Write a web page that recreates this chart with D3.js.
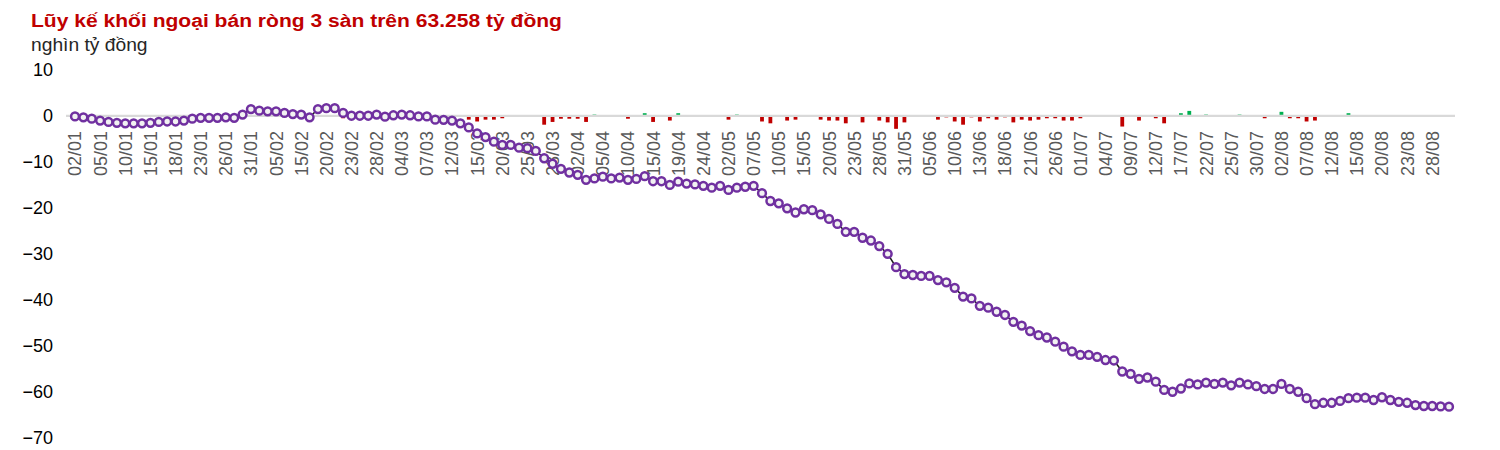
<!DOCTYPE html>
<html>
<head>
<meta charset="utf-8">
<script src="https://cdn.jsdelivr.net/npm/d3@7"></script>
<style>
  html, body { margin: 0; padding: 0; background: #ffffff; }
  svg { display: block; font-family: "Liberation Sans", Arial, sans-serif; }
</style>
</head>
<body>
<svg id="chart" width="1500" height="450"></svg>
<script>
const titleText = "Lũy kế khối ngoại bán ròng 3 sàn trên 63.258 tỷ đồng";
const unitText = "nghìn tỷ đồng";

const dates = [
  "02/01","03/01","04/01","05/01","08/01","09/01","10/01","11/01","12/01","15/01","16/01","17/01","18/01","19/01","22/01","23/01","24/01","25/01","26/01","29/01","30/01","31/01",
  "01/02","02/02","05/02","06/02","07/02","15/02","16/02","19/02","20/02","21/02","22/02","23/02","26/02","27/02","28/02","29/02",
  "01/03","04/03","05/03","06/03","07/03","08/03","11/03","12/03","13/03","14/03","15/03","18/03","19/03","20/03","21/03","22/03","25/03","26/03","27/03","28/03","29/03",
  "01/04","02/04","03/04","04/04","05/04","08/04","09/04","10/04","11/04","12/04","15/04","16/04","17/04","19/04","22/04","23/04","24/04","25/04","26/04",
  "02/05","03/05","06/05","07/05","08/05","09/05","10/05","13/05","14/05","15/05","16/05","17/05","20/05","21/05","22/05","23/05","24/05","27/05","28/05","29/05","30/05","31/05",
  "03/06","04/06","05/06","06/06","07/06","10/06","11/06","12/06","13/06","14/06","17/06","18/06","19/06","20/06","21/06","24/06","25/06","26/06","27/06","28/06",
  "01/07","02/07","03/07","04/07","05/07","08/07","09/07","10/07","11/07","12/07","15/07","16/07","17/07","18/07","19/07","22/07","23/07","24/07","25/07","26/07","29/07","30/07","31/07",
  "01/08","02/08","05/08","06/08","07/08","08/08","09/08","12/08","13/08","14/08","15/08","16/08","19/08","20/08","21/08","22/08","23/08","26/08","27/08","28/08","29/08","30/08"
];

const tickLabels = ["02/01","05/01","10/01","15/01","18/01","23/01","26/01","31/01","05/02","15/02","20/02","23/02","28/02","04/03","07/03","12/03","15/03","20/03","25/03","28/03","02/04","05/04","10/04","15/04","19/04","24/04","02/05","07/05","10/05","15/05","20/05","23/05","28/05","31/05","05/06","10/06","13/06","18/06","21/06","26/06","01/07","04/07","09/07","12/07","17/07","22/07","25/07","30/07","02/08","07/08","12/08","15/08","20/08","23/08","28/08"];

const yTicks = [10, 0, -10, -20, -30, -40, -50, -60, -70];

// cumulative net (thousand billion VND)
const cumulative = [
  -0.1,-0.3,-0.6,-1.0,-1.3,-1.5,-1.6,-1.6,-1.6,-1.5,-1.3,-1.2,-1.2,-1.0,-0.6,-0.4,-0.4,-0.4,-0.3,-0.4,0.3,1.5,
  1.15,1.0,1.0,0.65,0.4,0.3,-0.3,1.5,1.7,1.7,0.65,0.05,0.05,0.05,0.3,-0.15,
  0.15,0.3,0.15,-0.1,-0.1,-0.8,-0.85,-1.0,-1.6,-2.5,-3.8,-4.6,-5.6,-6.3,-6.3,-6.9,-7.0,-7.6,-9.2,-10.4,-11.5,
  -12.3,-12.8,-13.9,-13.6,-13.2,-13.6,-13.4,-13.9,-13.7,-13.1,-14.2,-14.2,-15.0,-14.3,-14.7,-14.9,-15.2,-15.6,-15.2,
  -16.1,-15.6,-15.4,-15.2,-16.8,-18.5,-19.0,-20.1,-21.0,-20.3,-20.5,-21.4,-22.4,-23.5,-25.2,-25.2,-26.5,-27.1,-28.3,-30.0,-32.9,-34.4,
  -34.6,-34.8,-34.8,-35.7,-36.2,-37.4,-39.3,-39.7,-41.3,-41.7,-42.6,-43.3,-44.8,-45.6,-46.8,-47.7,-48.2,-49.1,-50.2,-51.2,
  -52.0,-52.0,-52.4,-53.1,-53.2,-55.6,-56.1,-57.2,-56.9,-57.8,-59.6,-60.0,-59.3,-58.2,-58.4,-58.0,-58.3,-58.0,-58.6,-58.0,-58.4,-58.8,-59.4,
  -59.4,-58.3,-59.4,-60.0,-61.4,-62.7,-62.4,-62.4,-62.0,-61.4,-61.3,-61.3,-61.8,-61.2,-61.8,-62.2,-62.4,-62.9,-63.1,-63.1,-63.2,-63.258
];

// daily net (thousand billion VND)
const daily = [
  0,0,0,0,0,0,0,0,0,0,0,0,0,0,0,0,0,0,0,0,0,0,
  0,0,0,0,0,0,0,0,0,0,-0.5,0,0,0,0,0,
  0,0,0,0,0,0,0,0,0,-0.8,-1.2,-0.8,-0.8,-0.5,0,-0.2,-0.2,0,-1.9,-1.3,-0.6,
  -0.6,-0.6,-1.3,0.3,0,0,0,-0.6,0,0.6,-1.3,0,-1.0,0.6,0,0,0,-0.2,0,
  -0.8,0.3,0,0,-1.2,-1.6,-0.2,-1.0,-0.8,0,0,-0.8,-1.0,-1.0,-1.6,0,-1.4,-0.2,-1.0,-1.4,-2.8,-1.4,
  0,0,0,-0.8,-0.3,-1.2,-1.9,-0.3,-1.2,-0.5,-0.8,-0.3,-1.4,-0.8,-1.0,-0.8,-0.5,-0.5,-1.0,-1.0,
  -0.5,0,-0.2,-0.2,0,-2.3,-0.2,-1.0,0,-0.5,-1.6,0,0.6,1.1,0,0.3,0,0,-0.2,0.3,0,0,-0.5,
  0,0.9,-0.5,-0.5,-1.2,-1.0,0,0,0,0.6,0,0,0,0,0,-0.2,0,-0.2,0,0,0,0
];

const svg = d3.select("#chart");

const x = d3.scalePoint().domain(dates).range([75, 1449]);
const y = d3.scaleLinear().domain([10, -70]).range([70, 437.7]);

// title and unit (slightly widened glyphs, as in the source image)
svg.append("text")
  .attr("transform", "translate(31,27) scale(1.108,1)")
  .attr("font-size", 19).attr("font-weight", "bold")
  .attr("fill", "#c00000")
  .text(titleText);

svg.append("text")
  .attr("transform", "translate(31,51) scale(1.1,1)")
  .attr("font-size", 17.5)
  .attr("fill", "#262626")
  .text(unitText);

// y axis labels (no axis line)
const yAxis = d3.axisLeft(y).tickValues(yTicks).tickSize(0).tickPadding(0);
const gy = svg.append("g").attr("transform", "translate(53,0)").call(yAxis);
gy.select(".domain").remove();
gy.selectAll("text")
  .attr("font-size", 18)
  .attr("font-family", "Liberation Sans, Arial, sans-serif")
  .attr("fill", "#000");

// x axis labels (rotated)
svg.append("g").selectAll("text")
  .data(tickLabels)
  .join("text")
  .attr("transform", d => `translate(${x(d)},131) rotate(-90)`)
  .attr("text-anchor", "end")
  .attr("dy", "0.36em")
  .attr("font-size", 18)
  .attr("fill", "#595959")
  .text(d => d);

// daily bars
const barW = 3.8;
svg.append("g").selectAll("rect")
  .data(daily.map((v, i) => ({ d: dates[i], v })).filter(o => o.v !== 0))
  .join("rect")
  .attr("x", o => x(o.d) - barW / 2)
  .attr("width", barW)
  .attr("y", o => Math.min(y(o.v), y(0)))
  .attr("height", o => Math.abs(y(o.v) - y(0)))
  .attr("fill", o => o.v < 0 ? "#c00000" : "#00b050");

// zero line
svg.append("line")
  .attr("x1", 66).attr("x2", 1455)
  .attr("y1", y(0)).attr("y2", y(0))
  .attr("stroke", "#d9d9d9").attr("stroke-width", 2.2);

// cumulative line
const pts = cumulative.map((v, i) => ({ d: dates[i], v }));
svg.append("path")
  .datum(pts)
  .attr("fill", "none")
  .attr("stroke", "#1a1a1a")
  .attr("stroke-width", 1.5)
  .attr("d", d3.line().x(o => x(o.d)).y(o => y(o.v)));

svg.append("g").selectAll("circle")
  .data(pts)
  .join("circle")
  .attr("cx", o => x(o.d))
  .attr("cy", o => y(o.v))
  .attr("r", 3.9)
  .attr("fill", "#f2f2f2")
  .attr("stroke", "#7030a0")
  .attr("stroke-width", 2.5);
</script>
</body>
</html>
